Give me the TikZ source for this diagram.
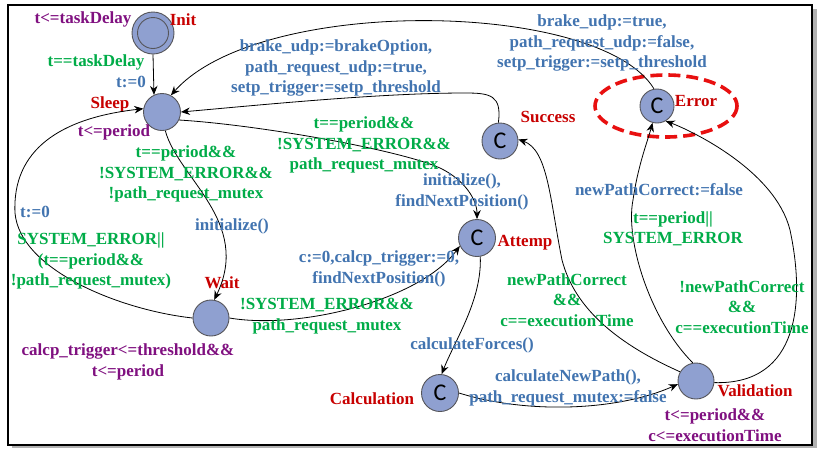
\documentclass[tikz,border=0pt]{standalone}
\usepackage{fontspec}
\setmainfont{Liberation Serif}
\newfontfamily\cfont{Carlito}
\usetikzlibrary{arrows.meta}
\definecolor{locred}{RGB}{200,0,0}
\definecolor{hilite}{RGB}{232,16,16}
\definecolor{invpurple}{RGB}{128,16,128}
\definecolor{guardgreen}{RGB}{0,172,72}
\definecolor{assignblue}{RGB}{66,116,176}
\definecolor{locfill}{RGB}{143,160,208}
\definecolor{locline}{RGB}{85,85,90}
\tikzset{
  loc/.style={circle, draw=locline, line width=0.9pt, fill=locfill, minimum size=37pt, inner sep=0pt},
  committed/.style={loc, font=\cfont\fontsize{24}{24}\selectfont},
  lbl/.style={font=\fontsize{17}{20.5}\selectfont\bfseries, inner sep=0pt, align=center},
  lname/.style={lbl, text=locred},
  inv/.style={lbl, text=invpurple},
  guard/.style={lbl, text=guardgreen},
  assign/.style={lbl, text=assignblue},
  edge/.style={draw=black, line width=0.8pt, -{Stealth[length=9pt,width=7.5pt]}}
}
\begin{document}
\begin{tikzpicture}[x=1pt,y=-1pt]
\useasboundingbox (0,0) rectangle (817,448);
% framed panel with drop shadow
\fill[black!30] (12,9) rectangle (817,448);
\draw[fill=white, line width=1.2pt] (8,5) rectangle (812,445);

% locations
\node[loc, minimum size=42pt] (init) at (153,33) {};
\node[circle, draw=locline, line width=0.9pt, minimum size=31pt, inner sep=0pt] (initin) at (init.center) {};
\node[loc] (sleep) at (162,112) {};
\node[committed, minimum size=36pt] (success) at (500,141) {C};
\node[committed, minimum size=34pt] (error) at (657,106) {C};
\node[committed] (attemp) at (477,238) {C};
\node[loc, minimum size=36pt] (wait) at (211,318) {};
\node[committed] (calc) at (440,393) {C};
\node[loc, minimum size=36pt] (valid) at (696,381) {};

% highlight around the error location
\draw[hilite, line width=3.6pt, dash pattern=on 12pt off 6pt] (666,106) ellipse [x radius=71, y radius=31];

% location names and invariants
\node[inv] (initinv) at (83,19) {t<=taskDelay};
\node[lname] (initname) at (183,20) {Init};
\node[lname] (sleepname) at (110,104) {Sleep};
\node[inv] (sleepinv) at (114,132) {t<=period};
\node[lname] (successname) at (548,117) {Success};
\node[lname] (errorname) at (696,101) {Error};
\node[lname] (waitname) at (222,283) {Wait};
\node[inv] (waitinv) at (128,362) {calcp\_trigger<=threshold\&\&\\t<=period};
\node[lname] (attempname) at (525,243) {Attemp};
\node[lname] (calcname) at (372,399) {Calculation};
\node[lname] (validname) at (755,391) {Validation};
\node[inv] (validinv) at (715,425) {t<=period\&\&\\c<=executionTime};

% transitions
\draw[edge] (init.south) -- (sleep.115);
\draw[edge] (error.100) .. controls (600,0) and (260,-5) .. (sleep.62);
\draw[edge] (success.95) .. controls (502,95) and (490,93) .. (465,93)
  .. controls (380,93) and (260,105) .. (sleep.east);
\draw[edge] (sleep.-25) .. controls (260,125) and (400,150) .. (440,168)
  .. controls (465,180) and (477,200) .. (attemp.north);
\draw[edge] (sleep.-80) .. controls (178,178) and (252,222) .. (wait.80);
\draw[edge] (wait.west) .. controls (120,310) and (20,270) .. (15,213)
  .. controls (12,150) and (60,118) .. (sleep.170);
\draw[edge] (wait.east) .. controls (300,330) and (420,300) .. (attemp.205);
\draw[edge] (attemp.-80) .. controls (482,300) and (455,340) .. (calc.85);
\draw[edge] (calc.east) .. controls (530,415) and (620,410) .. (valid.190);
\draw[edge] (valid.150) .. controls (620,345) and (575,310) .. (562,260)
  .. controls (550,200) and (548,150) .. (success.5);
\draw[edge] (valid.100) .. controls (650,320) and (625,240) .. (633,200)
  .. controls (638,165) and (648,140) .. (error.-105);
\draw[edge] (valid.-5) .. controls (800,385) and (805,300) .. (790,230)
  .. controls (775,170) and (690,130) .. (error.-60);

% transition labels
\node[guard] (g1) at (96,62) {t==taskDelay};
\node[assign] (a1) at (131,82) {t:=0};
\node[assign] (a2) at (602,43) {brake\_udp:=true,\\path\_request\_udp:=false,\\setp\_trigger:=setp\_threshold};
\node[assign] (a3) at (336,68) {brake\_udp:=brakeOption,\\path\_request\_udp:=true,\\setp\_trigger:=setp\_threshold};
\node[guard] (g4) at (364,145) {t==period\&\&\\!SYSTEM\_ERROR\&\&\\path\_request\_mutex};
\node[assign] (a4) at (462,192) {initialize(),\\findNextPosition()};
\node[guard] (g5) at (186,174) {t==period\&\&\\!SYSTEM\_ERROR\&\&\\!path\_request\_mutex};
\node[assign] (a5) at (232,226) {initialize()};
\node[assign] (a6) at (35,212) {t:=0};
\node[guard] (g6) at (91,261) {SYSTEM\_ERROR||\\(t==period\&\&\\!path\_request\_mutex)};
\node[guard] (g7) at (327,316) {!SYSTEM\_ERROR\&\&\\path\_request\_mutex};
\node[assign] (a7) at (379,269) {c:=0,calcp\_trigger:=0,\\findNextPosition()};
\node[assign] (a8) at (472,345) {calculateForces()};
\node[assign] (a9) at (568,388) {calculateNewPath(),\\path\_request\_mutex:=false};
\node[guard] (g10) at (567,300) {newPathCorrect\\\&\&\\c==executionTime};
\node[assign] (a11) at (659,190) {newPathCorrect:=false};
\node[guard] (g11) at (673,229) {t==period||\\SYSTEM\_ERROR};
\node[guard] (g12) at (742,307) {!newPathCorrect\\\&\&\\c==executionTime};
\end{tikzpicture}
\end{document}
